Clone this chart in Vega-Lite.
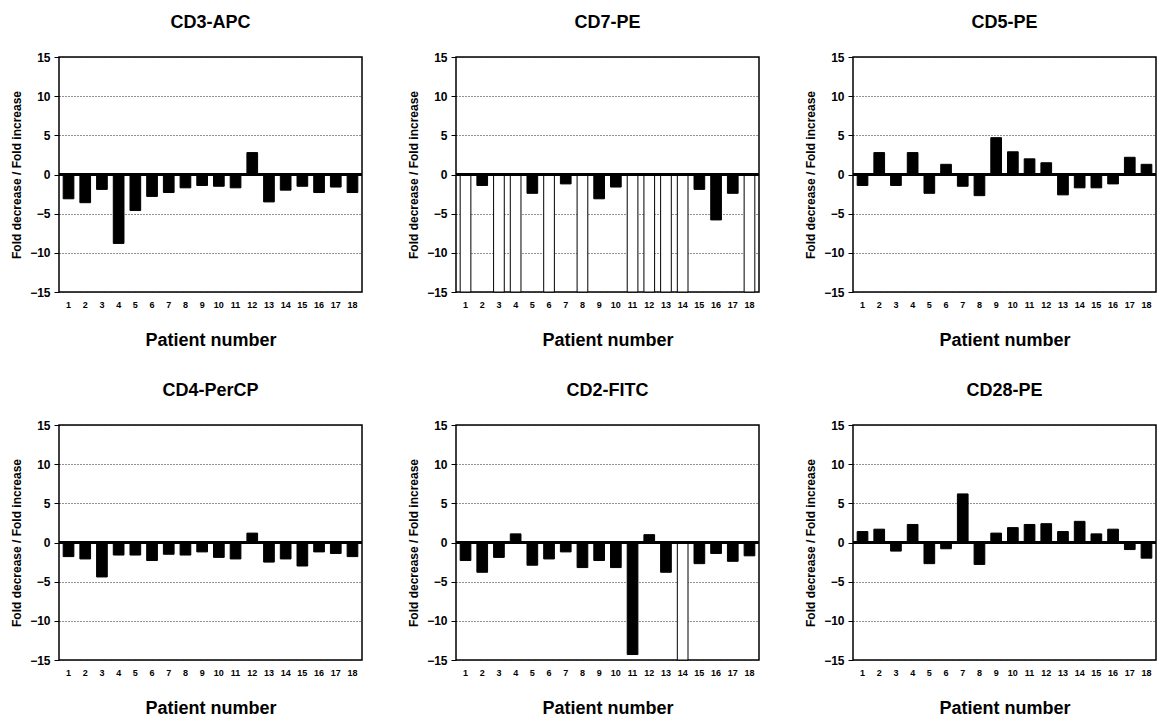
{
  "$schema": "https://vega.github.io/schema/vega-lite/v6.json",
  "padding": {"left": 9, "top": 13, "right": 1, "bottom": 2},
  "background": "white",
  "data": {"values": [
    {"marker":"CD3-APC","patient":1,"value":-3.1,"kind":"measured"},
    {"marker":"CD3-APC","patient":2,"value":-3.6,"kind":"measured"},
    {"marker":"CD3-APC","patient":3,"value":-1.9,"kind":"measured"},
    {"marker":"CD3-APC","patient":4,"value":-8.8,"kind":"measured"},
    {"marker":"CD3-APC","patient":5,"value":-4.6,"kind":"measured"},
    {"marker":"CD3-APC","patient":6,"value":-2.8,"kind":"measured"},
    {"marker":"CD3-APC","patient":7,"value":-2.3,"kind":"measured"},
    {"marker":"CD3-APC","patient":8,"value":-1.7,"kind":"measured"},
    {"marker":"CD3-APC","patient":9,"value":-1.4,"kind":"measured"},
    {"marker":"CD3-APC","patient":10,"value":-1.5,"kind":"measured"},
    {"marker":"CD3-APC","patient":11,"value":-1.7,"kind":"measured"},
    {"marker":"CD3-APC","patient":12,"value":2.8,"kind":"measured"},
    {"marker":"CD3-APC","patient":13,"value":-3.5,"kind":"measured"},
    {"marker":"CD3-APC","patient":14,"value":-2.0,"kind":"measured"},
    {"marker":"CD3-APC","patient":15,"value":-1.5,"kind":"measured"},
    {"marker":"CD3-APC","patient":16,"value":-2.3,"kind":"measured"},
    {"marker":"CD3-APC","patient":17,"value":-1.6,"kind":"measured"},
    {"marker":"CD3-APC","patient":18,"value":-2.3,"kind":"measured"},
    {"marker":"CD7-PE","patient":1,"value":-15,"kind":"off"},
    {"marker":"CD7-PE","patient":2,"value":-1.4,"kind":"measured"},
    {"marker":"CD7-PE","patient":3,"value":-15,"kind":"off"},
    {"marker":"CD7-PE","patient":4,"value":-15,"kind":"off"},
    {"marker":"CD7-PE","patient":5,"value":-2.4,"kind":"measured"},
    {"marker":"CD7-PE","patient":6,"value":-15,"kind":"off"},
    {"marker":"CD7-PE","patient":7,"value":-1.2,"kind":"measured"},
    {"marker":"CD7-PE","patient":8,"value":-15,"kind":"off"},
    {"marker":"CD7-PE","patient":9,"value":-3.1,"kind":"measured"},
    {"marker":"CD7-PE","patient":10,"value":-1.6,"kind":"measured"},
    {"marker":"CD7-PE","patient":11,"value":-15,"kind":"off"},
    {"marker":"CD7-PE","patient":12,"value":-15,"kind":"off"},
    {"marker":"CD7-PE","patient":13,"value":-15,"kind":"off"},
    {"marker":"CD7-PE","patient":14,"value":-15,"kind":"off"},
    {"marker":"CD7-PE","patient":15,"value":-1.9,"kind":"measured"},
    {"marker":"CD7-PE","patient":16,"value":-5.8,"kind":"measured"},
    {"marker":"CD7-PE","patient":17,"value":-2.4,"kind":"measured"},
    {"marker":"CD7-PE","patient":18,"value":-15,"kind":"off"},
    {"marker":"CD5-PE","patient":1,"value":-1.4,"kind":"measured"},
    {"marker":"CD5-PE","patient":2,"value":2.8,"kind":"measured"},
    {"marker":"CD5-PE","patient":3,"value":-1.4,"kind":"measured"},
    {"marker":"CD5-PE","patient":4,"value":2.8,"kind":"measured"},
    {"marker":"CD5-PE","patient":5,"value":-2.4,"kind":"measured"},
    {"marker":"CD5-PE","patient":6,"value":1.3,"kind":"measured"},
    {"marker":"CD5-PE","patient":7,"value":-1.5,"kind":"measured"},
    {"marker":"CD5-PE","patient":8,"value":-2.7,"kind":"measured"},
    {"marker":"CD5-PE","patient":9,"value":4.7,"kind":"measured"},
    {"marker":"CD5-PE","patient":10,"value":2.9,"kind":"measured"},
    {"marker":"CD5-PE","patient":11,"value":2.0,"kind":"measured"},
    {"marker":"CD5-PE","patient":12,"value":1.5,"kind":"measured"},
    {"marker":"CD5-PE","patient":13,"value":-2.6,"kind":"measured"},
    {"marker":"CD5-PE","patient":14,"value":-1.7,"kind":"measured"},
    {"marker":"CD5-PE","patient":15,"value":-1.7,"kind":"measured"},
    {"marker":"CD5-PE","patient":16,"value":-1.2,"kind":"measured"},
    {"marker":"CD5-PE","patient":17,"value":2.2,"kind":"measured"},
    {"marker":"CD5-PE","patient":18,"value":1.3,"kind":"measured"},
    {"marker":"CD4-PerCP","patient":1,"value":-1.8,"kind":"measured"},
    {"marker":"CD4-PerCP","patient":2,"value":-2.1,"kind":"measured"},
    {"marker":"CD4-PerCP","patient":3,"value":-4.4,"kind":"measured"},
    {"marker":"CD4-PerCP","patient":4,"value":-1.6,"kind":"measured"},
    {"marker":"CD4-PerCP","patient":5,"value":-1.6,"kind":"measured"},
    {"marker":"CD4-PerCP","patient":6,"value":-2.3,"kind":"measured"},
    {"marker":"CD4-PerCP","patient":7,"value":-1.5,"kind":"measured"},
    {"marker":"CD4-PerCP","patient":8,"value":-1.6,"kind":"measured"},
    {"marker":"CD4-PerCP","patient":9,"value":-1.2,"kind":"measured"},
    {"marker":"CD4-PerCP","patient":10,"value":-1.9,"kind":"measured"},
    {"marker":"CD4-PerCP","patient":11,"value":-2.1,"kind":"measured"},
    {"marker":"CD4-PerCP","patient":12,"value":1.2,"kind":"measured"},
    {"marker":"CD4-PerCP","patient":13,"value":-2.5,"kind":"measured"},
    {"marker":"CD4-PerCP","patient":14,"value":-2.1,"kind":"measured"},
    {"marker":"CD4-PerCP","patient":15,"value":-3.0,"kind":"measured"},
    {"marker":"CD4-PerCP","patient":16,"value":-1.2,"kind":"measured"},
    {"marker":"CD4-PerCP","patient":17,"value":-1.4,"kind":"measured"},
    {"marker":"CD4-PerCP","patient":18,"value":-1.8,"kind":"measured"},
    {"marker":"CD2-FITC","patient":1,"value":-2.3,"kind":"measured"},
    {"marker":"CD2-FITC","patient":2,"value":-3.8,"kind":"measured"},
    {"marker":"CD2-FITC","patient":3,"value":-1.9,"kind":"measured"},
    {"marker":"CD2-FITC","patient":4,"value":1.1,"kind":"measured"},
    {"marker":"CD2-FITC","patient":5,"value":-2.9,"kind":"measured"},
    {"marker":"CD2-FITC","patient":6,"value":-2.1,"kind":"measured"},
    {"marker":"CD2-FITC","patient":7,"value":-1.2,"kind":"measured"},
    {"marker":"CD2-FITC","patient":8,"value":-3.2,"kind":"measured"},
    {"marker":"CD2-FITC","patient":9,"value":-2.3,"kind":"measured"},
    {"marker":"CD2-FITC","patient":10,"value":-3.2,"kind":"measured"},
    {"marker":"CD2-FITC","patient":11,"value":-14.3,"kind":"measured"},
    {"marker":"CD2-FITC","patient":12,"value":1.0,"kind":"measured"},
    {"marker":"CD2-FITC","patient":13,"value":-3.8,"kind":"measured"},
    {"marker":"CD2-FITC","patient":14,"value":-15,"kind":"off"},
    {"marker":"CD2-FITC","patient":15,"value":-2.7,"kind":"measured"},
    {"marker":"CD2-FITC","patient":16,"value":-1.4,"kind":"measured"},
    {"marker":"CD2-FITC","patient":17,"value":-2.4,"kind":"measured"},
    {"marker":"CD2-FITC","patient":18,"value":-1.7,"kind":"measured"},
    {"marker":"CD28-PE","patient":1,"value":1.4,"kind":"measured"},
    {"marker":"CD28-PE","patient":2,"value":1.7,"kind":"measured"},
    {"marker":"CD28-PE","patient":3,"value":-1.1,"kind":"measured"},
    {"marker":"CD28-PE","patient":4,"value":2.3,"kind":"measured"},
    {"marker":"CD28-PE","patient":5,"value":-2.7,"kind":"measured"},
    {"marker":"CD28-PE","patient":6,"value":-0.8,"kind":"measured"},
    {"marker":"CD28-PE","patient":7,"value":6.2,"kind":"measured"},
    {"marker":"CD28-PE","patient":8,"value":-2.8,"kind":"measured"},
    {"marker":"CD28-PE","patient":9,"value":1.2,"kind":"measured"},
    {"marker":"CD28-PE","patient":10,"value":1.9,"kind":"measured"},
    {"marker":"CD28-PE","patient":11,"value":2.3,"kind":"measured"},
    {"marker":"CD28-PE","patient":12,"value":2.4,"kind":"measured"},
    {"marker":"CD28-PE","patient":13,"value":1.4,"kind":"measured"},
    {"marker":"CD28-PE","patient":14,"value":2.7,"kind":"measured"},
    {"marker":"CD28-PE","patient":15,"value":1.1,"kind":"measured"},
    {"marker":"CD28-PE","patient":16,"value":1.7,"kind":"measured"},
    {"marker":"CD28-PE","patient":17,"value":-0.9,"kind":"measured"},
    {"marker":"CD28-PE","patient":18,"value":-2.0,"kind":"measured"}
  ]},
  "facet": {
    "field": "marker", "type": "nominal",
    "sort": ["CD3-APC","CD7-PE","CD5-PE","CD4-PerCP","CD2-FITC","CD28-PE"],
    "header": {"title": null, "labelFontSize": 18, "labelFontWeight": "bold", "labelFont": "Liberation Sans", "labelColor": "black", "labelPadding": 19}
  },
  "columns": 3,
  "spacing": {"row": 31, "column": 42},
  "resolve": {"axis": {"x": "independent", "y": "independent"}},
  "spec": {
    "width": 303,
    "height": 235,
    "layer": [
      {
        "mark": {"type": "bar", "stroke": "black", "strokeWidth": 1},
        "encoding": {
          "x": {"field": "patient", "type": "ordinal",
                "scale": {"paddingInner": 0.36, "paddingOuter": 0.25},
                "axis": {"labelAngle": 0, "labelFontSize": 9, "labelFontWeight": "bold", "labelFont": "Liberation Sans", "labelColor": "black", "ticks": false, "domain": false, "labelPadding": 8, "labelOverlap": false, "title": "Patient number", "titleFontSize": 18, "titleFontWeight": "bold", "titleFont": "Liberation Sans", "titleColor": "black", "titlePadding": 22}},
          "y": {"field": "value", "type": "quantitative",
                "scale": {"domain": [-15, 15], "nice": false, "zero": true},
                "axis": {"values": [-15,-10,-5,0,5,10,15], "tickCount": 7, "labelOverlap": false, "labelFontSize": 12, "labelFontWeight": "bold", "labelFont": "Liberation Sans", "labelColor": "black", "tickSize": 5, "tickColor": "black", "domain": false, "labelPadding": 4, "grid": true, "gridColor": "#222", "gridDash": [1, 2], "gridWidth": 1, "title": "Fold decrease / Fold increase", "titleFontSize": 12, "titleFontWeight": "bold", "titleFont": "Liberation Sans", "titleColor": "black", "titlePadding": 6}},
          "fill": {"field": "kind", "type": "nominal", "scale": {"domain": ["measured", "off"], "range": ["black", "white"]}, "legend": null}
        }
      },
      {
        "mark": {"type": "rule", "color": "black", "strokeWidth": 1.5},
        "encoding": {"y": {"datum": 0}}
      }
    ]
  },
  "config": {
    "view": {"stroke": "black", "strokeWidth": 1.5}
  }
}
